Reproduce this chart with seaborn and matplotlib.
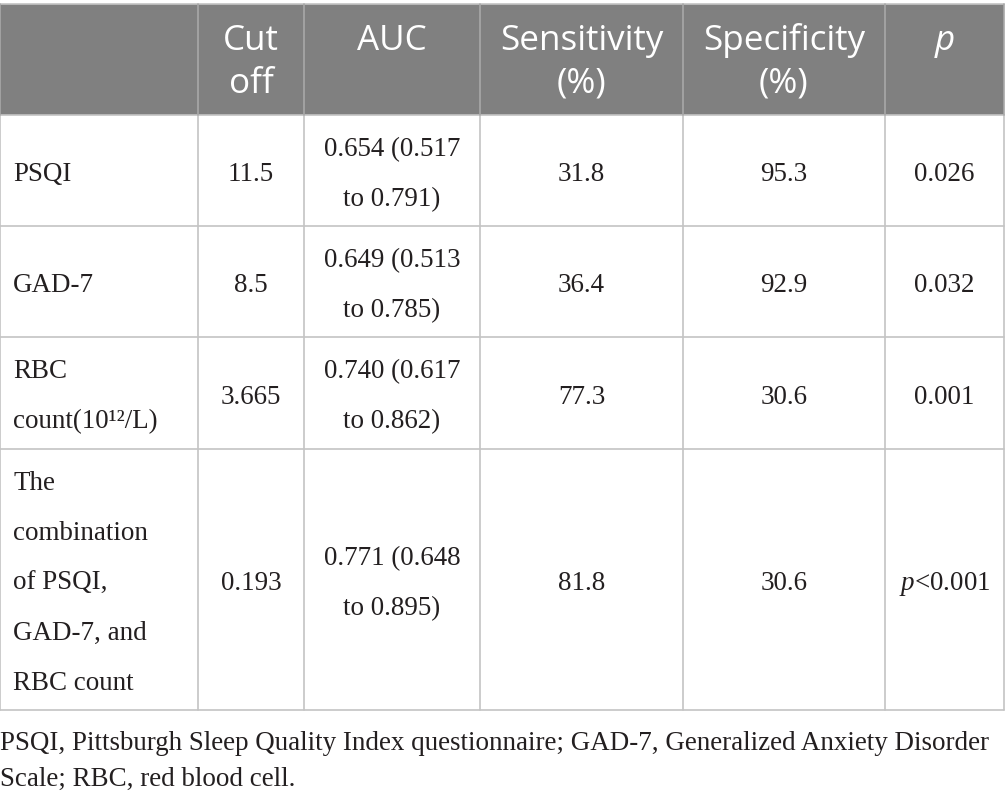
import numpy as np
import pandas as pd
import matplotlib
matplotlib.use("Agg")
import matplotlib.pyplot as plt
import seaborn as sns

# Données du tableau
headers = ["", "Cut\noff", "AUC", "Sensitivity\n(%)", "Specificity\n(%)", "p"]
variables = ["PSQI", "GAD-7", "RBC\ncount(10¹²/L)",
             "The\ncombination\nof PSQI,\nGAD-7, and\nRBC count"]
cut_off = ["11.5", "8.5", "3.665", "0.193"]
auc = ["0.654 (0.517\nto 0.791)", "0.649 (0.513\nto 0.785)",
       "0.740 (0.617\nto 0.862)", "0.771 (0.648\nto 0.895)"]
sensitivity = ["31.8", "36.4", "77.3", "81.8"]
specificity = ["95.3", "92.9", "30.6", "30.6"]
p_values = ["0.026", "0.032", "0.001", "$p$<0.001"]
footnote = ["PSQI, Pittsburgh Sleep Quality Index questionnaire; GAD-7, Generalized Anxiety Disorder",
            "Scale; RBC, red blood cell."]

df = pd.DataFrame({"var": variables, "cut": cut_off, "auc": auc,
                   "sens": sensitivity, "spec": specificity, "p": p_values})

# Mise en page (pixels)
W, H = 1005, 800
col_edges = [0, 198, 304, 480, 683, 885, 1004]
row_edges = [4, 115, 226, 337, 449, 710]

sns.set_style("white")
plt.rcParams["mathtext.fontset"] = "custom"
plt.rcParams["mathtext.rm"] = "Liberation Serif"
plt.rcParams["mathtext.it"] = "Liberation Serif:italic"

fig = plt.figure(figsize=(W / 100, H / 100), dpi=100)
ax = fig.add_axes([0, 0, 1, 1])
ax.set_xlim(0, W)
ax.set_ylim(H, 0)
ax.axis("off")

pt = 72 / 100  # px -> pt
head_size = 35 * pt
body_size = 27 * pt
grid_col = "#c4c4c4"

# Fond de l'en-tête
ax.add_patch(plt.Rectangle((col_edges[0], row_edges[0]), col_edges[-1] - col_edges[0],
                           row_edges[1] - row_edges[0], color="#808080", lw=0))

# Lignes de la grille
for y in row_edges:
    ax.plot([col_edges[0], col_edges[-1]], [y, y], color=grid_col, lw=1.2)
for x in col_edges:
    ax.plot([x, x], [row_edges[1], row_edges[-1]], color=grid_col, lw=1.2)
    ax.plot([x, x], [row_edges[0], row_edges[1]], color="#a8a8a8", lw=1.2)

# En-tête
for j, h in enumerate(headers):
    xc = (col_edges[j] + col_edges[j + 1]) / 2
    for k, line in enumerate(h.split("\n")):
        ax.text(xc, 50 + k * 43, line, ha="center", va="baseline", color="white",
                fontsize=head_size, family="Open Sans",
                style="italic" if h == "p" else "normal")

# Corps du tableau
cols = ["var", "cut", "auc", "sens", "spec", "p"]
for i in range(len(df)):
    yc = (row_edges[i + 1] + row_edges[i + 2]) / 2
    for j, c in enumerate(cols):
        lines = df.loc[i, c].split("\n")
        n = len(lines)
        for k, line in enumerate(lines):
            yb = yc + 10.5 + (k - (n - 1) / 2) * 50
            if j == 0:
                ax.text(col_edges[0] + 13, yb, line, ha="left", va="baseline",
                        fontsize=body_size, family="Liberation Serif", color="#231f20")
            else:
                xc = (col_edges[j] + col_edges[j + 1]) / 2
                ax.text(xc, yb, line, ha="center", va="baseline",
                        fontsize=body_size, family="Liberation Serif", color="#231f20")

# Note de bas de tableau
for k, line in enumerate(footnote):
    ax.text(0, 750 + k * 36, line, ha="left", va="baseline",
            fontsize=body_size, family="Liberation Serif", color="#231f20")

fig.savefig("out.png", dpi=100)
plt.close()
